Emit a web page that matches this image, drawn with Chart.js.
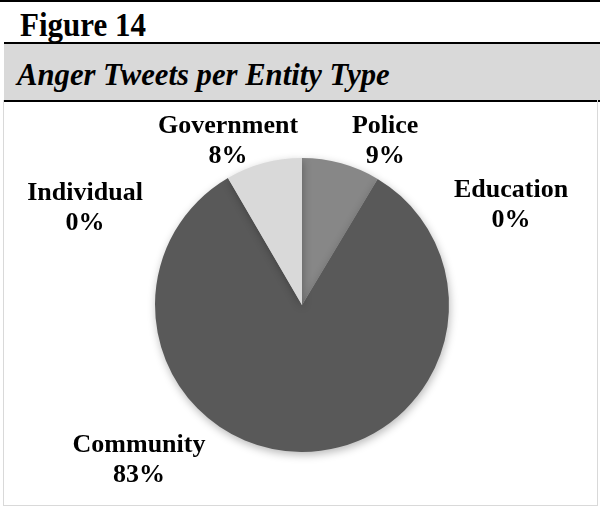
<!DOCTYPE html>
<html>
<head>
<meta charset="utf-8">
<script src="https://cdn.jsdelivr.net/npm/chart.js@4.4.0/dist/chart.umd.min.js"></script>
<style>
  html, body { margin: 0; padding: 0; background: #fff; }
  body { width: 600px; height: 508px; position: relative; overflow: hidden; font-family: "Liberation Serif", "Times New Roman", serif; }
  .topline { position: absolute; left: 0; top: 0; width: 600px; height: 2px; background: #000; }
  .fig { position: absolute; left: 20px; top: 7px; font-size: 31px; font-weight: bold; line-height: 31px; transform: scaleY(1.12); transform-origin: 0 0; white-space: nowrap; }
  .band { position: absolute; left: 4px; top: 42px; width: 596px; height: 56px; background: #d9d9d9; border-top: 2px solid #000; border-bottom: 2px solid #000; }
  .title { position: absolute; left: 17px; top: 60px; font-size: 30.7px; font-weight: bold; font-style: italic; line-height: 30px; white-space: nowrap; }
  .box { position: absolute; left: 3px; top: 100px; width: 593px; height: 405px; border: 1px solid #d9d9d9; border-top: none; }
  .box canvas { position: absolute; left: 0; top: 0; }
</style>
</head>
<body>
<div class="topline"></div>
<div class="fig">Figure 14</div>
<div class="band"></div>
<div class="title">Anger Tweets per Entity Type</div>
<div class="box"><canvas id="pie" width="593" height="405"></canvas></div>
<script>
  const entities = ['Police', 'Education', 'Community', 'Individual', 'Government']
  const shares = [8.6, 0, 83.0, 0, 8.4]
  const sliceColors = ['#878787', '#7f7f7f', '#595959', '#a6a6a6', '#d9d9d9']

  // where each outside label sits: angle clockwise from 12 o'clock, distance in radii
  const labelSpots = [
    { angle: 26.6, dist: 1.263 },
    { angle: 64.0, dist: 1.582 },
    { angle: -133.2, dist: 1.521 },
    { angle: -65.5, dist: 1.622 },
    { angle: -24.0, dist: 1.236 }
  ]

  const shadowPlugin = {
    id: 'pieShadow',
    beforeDatasetsDraw(chart) {
      const c = chart.ctx
      c.save()
      c.shadowColor = 'rgba(0,0,0,0.28)'
      c.shadowBlur = 8
      c.shadowOffsetX = 1
      c.shadowOffsetY = 3
    },
    afterDatasetsDraw(chart) {
      chart.ctx.restore()
    }
  }

  const labelPlugin = {
    id: 'outsideLabels',
    afterDraw(chart) {
      const c = chart.ctx
      const meta = chart.getDatasetMeta(0)
      c.save()
      c.fillStyle = '#000'
      c.font = 'bold 26px "Liberation Serif", serif'
      c.textAlign = 'center'
      c.textBaseline = 'alphabetic'
      meta.data.forEach((arc, i) => {
        const spot = labelSpots[i]
        const a = spot.angle * Math.PI / 180
        const x = arc.x + Math.sin(a) * arc.outerRadius * spot.dist
        const y = arc.y - Math.cos(a) * arc.outerRadius * spot.dist
        c.fillText(entities[i], x, y - 6)
        c.fillText(Math.round(shares[i]) + '%', x, y + 24)
      })
      c.restore()
    }
  }

  new Chart(document.getElementById('pie'), {
    type: 'pie',
    data: {
      labels: entities,
      datasets: [{
        data: shares,
        backgroundColor: sliceColors,
        borderWidth: 0
      }]
    },
    options: {
      responsive: false,
      animation: false,
      layout: { padding: { top: 58, bottom: 53, left: 3, right: 0 } },
      plugins: {
        legend: { display: false },
        tooltip: { enabled: false }
      }
    },
    plugins: [shadowPlugin, labelPlugin]
  })
</script>
</body>
</html>
